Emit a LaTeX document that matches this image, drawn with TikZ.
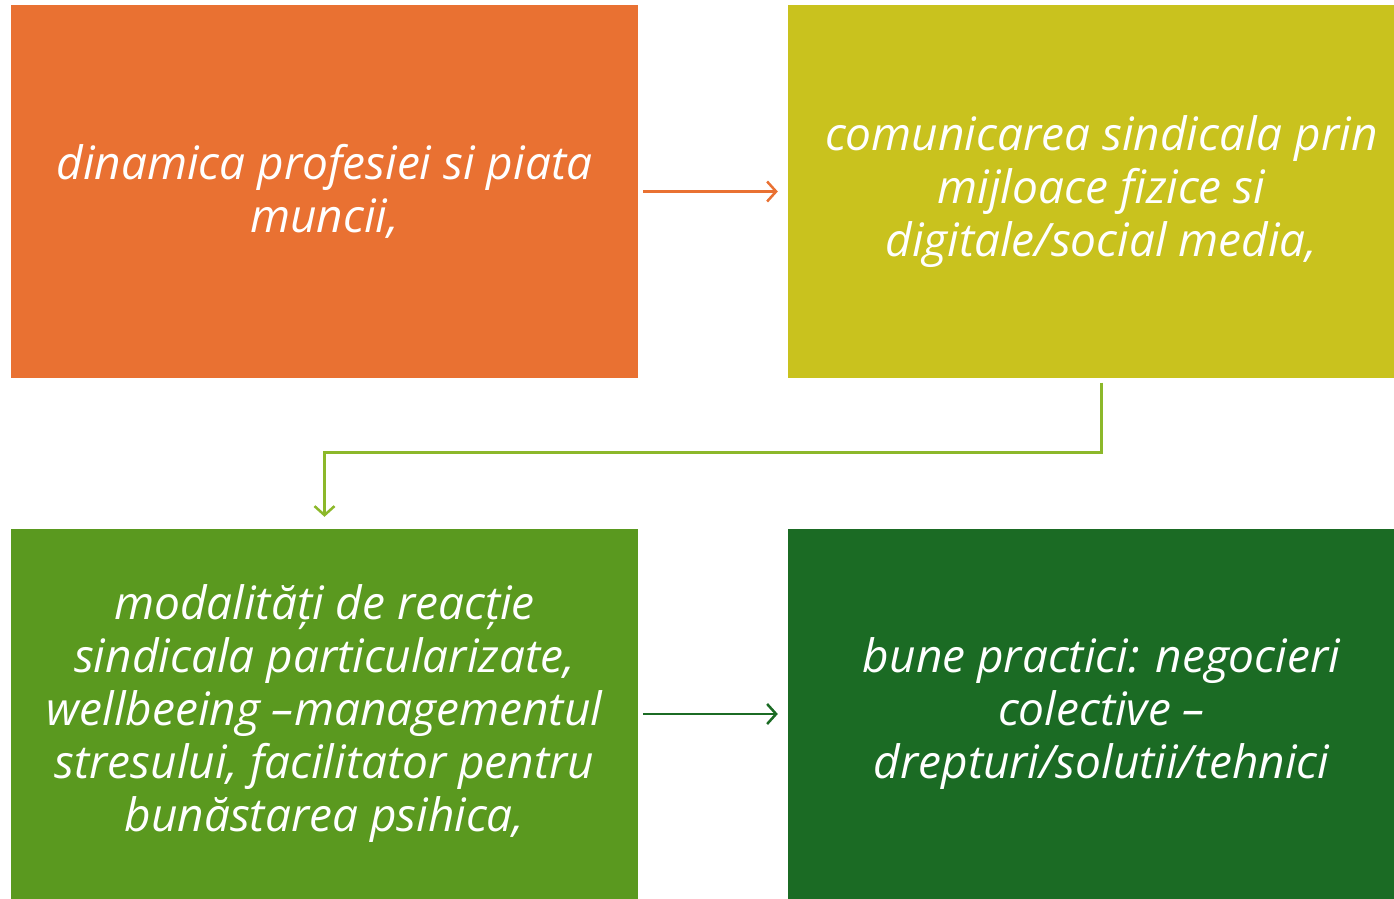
\documentclass[tikz,border=0pt]{standalone}
\usepackage{fontspec}
\setmainfont{Open Sans}
\usetikzlibrary{arrows.meta}
\definecolor{cOrange}{HTML}{E97132}
\definecolor{cYellow}{HTML}{C9C21E}
\definecolor{cGreen}{HTML}{5A991F}
\definecolor{cDark}{HTML}{1B6B24}
\definecolor{cLine}{HTML}{8CB82A}
\tikzset{
  box/.style={draw=none, minimum width=627pt, minimum height=#1, inner sep=0pt, text=white, align=center,
    font=\fontsize{46}{53}\selectfont\itshape},
  box/.default=372pt,
  conn/.style={line width=2.5pt, -{Straight Barb[length=9pt,width=20pt,line width=2.5pt]}}
}
\begin{document}
\begin{tikzpicture}[x=1pt,y=-1pt]
\useasboundingbox (0,0) rectangle (1394,899);
\node[box, fill=cOrange] (b1) at (324.5,191.5) {dinamica profesiei si piata\\muncii,};
\node[box, fill=cYellow] (b2) at (1101.5,191.5) {comunicarea sindicala prin\\mijloace fizice si\\digitale/social media,};
\node[box=370pt, fill=cGreen] (b3) at (324.5,714) {modalități de reacție\\sindicala particularizate,\\wellbeeing –managementul\\stresului, facilitator pentru\\bunăstarea psihica,};
\node[box=370pt, fill=cDark] (b4) at (1101.5,714) {bune practici: negocieri\\colective –\\drepturi/solutii/tehnici};
\draw[conn, draw=cOrange, shorten <=5pt, shorten >=10pt] (b1.east) -- (b2.west);
\draw[conn, draw=cLine, shorten <=5pt, shorten >=12pt] (b2.south) -- ++(0,75) -| (b3.north);
\draw[conn, draw=cDark, shorten <=5pt, shorten >=10pt] (b3.east) -- (b4.west);
\end{tikzpicture}
\end{document}
